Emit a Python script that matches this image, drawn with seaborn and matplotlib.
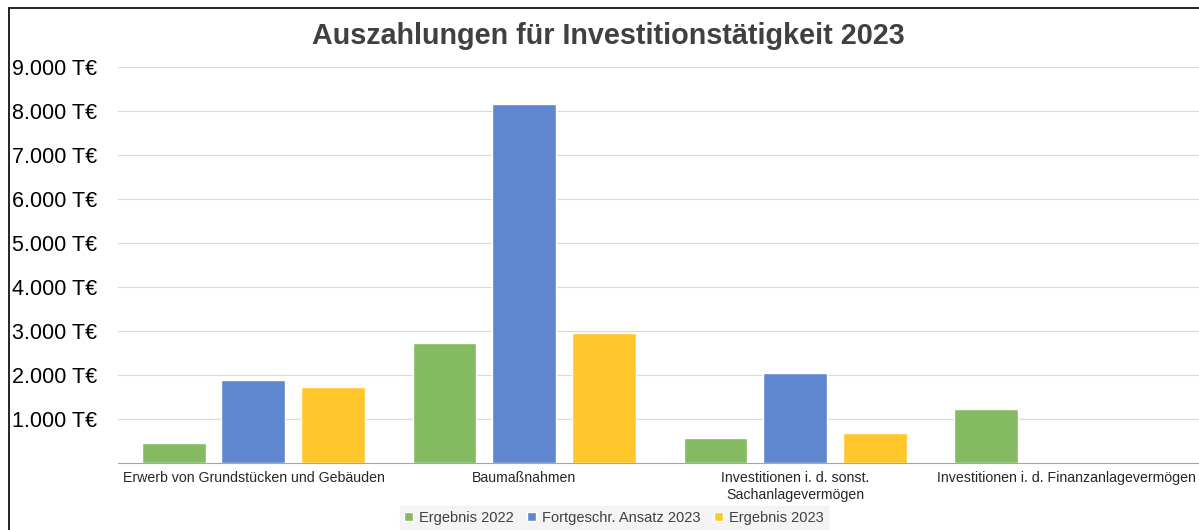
import matplotlib.pyplot as plt
import matplotlib.ticker as mticker
from matplotlib.lines import Line2D
from matplotlib.patches import Patch
import pandas as pd
import seaborn as sns

# Data (T€)
categories = [
    "Erwerb von Grundstücken und Gebäuden",
    "Baumaßnahmen",
    "Investitionen i. d. sonst.\nSachanlagevermögen",
    "Investitionen i. d. Finanzanlagevermögen",
]
series = ["Ergebnis 2022", "Fortgeschr. Ansatz 2023", "Ergebnis 2023"]
ergebnis_2022 = [450, 2720, 560, 1220]
ansatz_2023 = [1880, 8150, 2040, 20]
ergebnis_2023 = [1730, 2950, 680, 0]
y_ticks = [1000, 2000, 3000, 4000, 5000, 6000, 7000, 8000, 9000]

colors = ["#84BA62", "#5F87D0", "#FFC72C"]

df = pd.DataFrame({
    "Kategorie": categories * 3,
    "Reihe": [s for s in series for _ in categories],
    "Wert": ergebnis_2022 + ansatz_2023 + ergebnis_2023,
})

sns.set_style("white")
plt.rcParams["font.family"] = ["Liberation Sans", "DejaVu Sans"]

fig = plt.figure(figsize=(11.99, 5.3), dpi=100)
ax = fig.add_axes([0.0984, 0.1264, 0.904, 0.7472])

sns.barplot(data=df, x="Kategorie", y="Wert", hue="Reihe", palette=colors,
            width=0.885, gap=0.2, legend=False, ax=ax, saturation=1)

ax.set_ylim(0, 9000)
ax.set_yticks(y_ticks)
ax.yaxis.set_major_formatter(mticker.FuncFormatter(lambda v, p: f"{int(v):,} T€".replace(",", ".")))
ax.grid(axis="y", color="#d9d9d9", linewidth=0.8)
ax.set_axisbelow(True)
for side in ["top", "right", "left"]:
    ax.spines[side].set_visible(False)
ax.spines["bottom"].set_color("#a6a6a6")
ax.tick_params(axis="y", labelsize=15.5, pad=15, length=0, labelcolor="#000000")
ax.tick_params(axis="x", labelsize=10.2, pad=6, length=0, labelcolor="#262626")
ax.set_xlabel("")
ax.set_ylabel("")

fig.suptitle("Auszahlungen für Investitionstätigkeit 2023", x=0.507, y=0.958,
             fontsize=20.7, fontweight="bold", color="#404040")

handles = [Patch(facecolor=c, label=s) for c, s in zip(colors, series)]
leg = fig.legend(handles=handles, loc="lower center", bbox_to_anchor=(0.512, -0.012), ncol=3,
                 frameon=True, fontsize=10.5, handlelength=0.6, handleheight=0.6,
                 handletextpad=0.4, columnspacing=0.95, borderpad=0.3)
leg.get_frame().set_facecolor("#f2f2f2")
leg.get_frame().set_edgecolor("#f2f2f2")
leg.get_frame().set_boxstyle("square", pad=0)
for t in leg.get_texts():
    t.set_color("#404040")

# Black border on top and left as in the reference
fig.add_artist(Line2D([9 / 1199, 1.0], [1 - 8 / 530, 1 - 8 / 530], color="black", linewidth=1.2))
fig.add_artist(Line2D([9 / 1199, 9 / 1199], [0, 1 - 8 / 530], color="black", linewidth=1.2))

fig.savefig("out.png", dpi=100)
